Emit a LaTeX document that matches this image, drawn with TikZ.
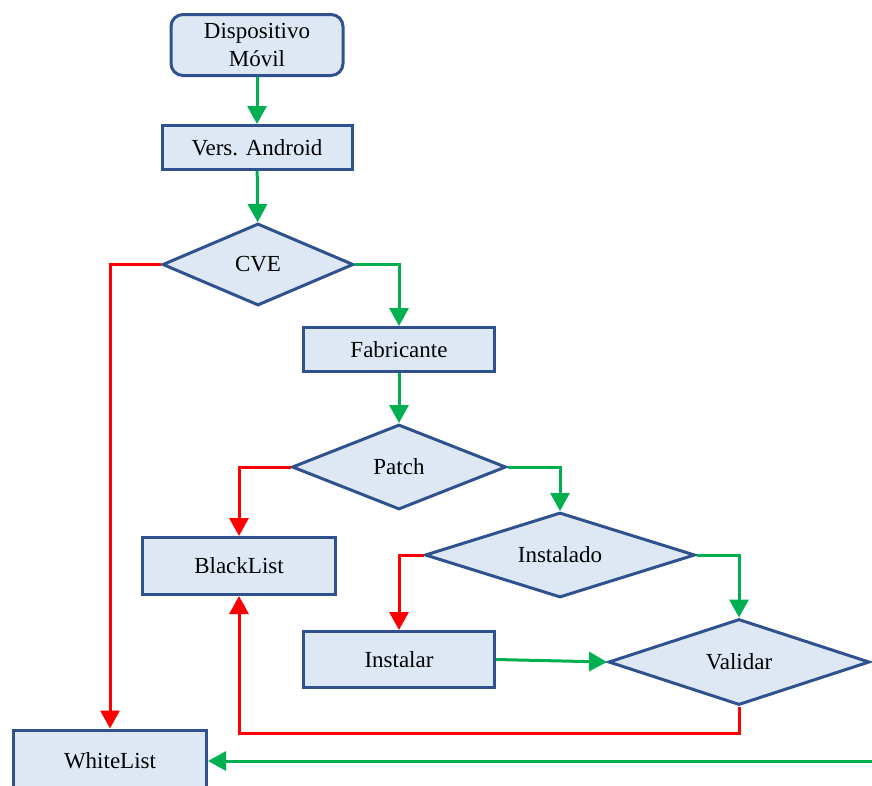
\documentclass[tikz,border=0pt]{standalone}
\usepackage{fontspec}
\setmainfont{Liberation Serif}
\usetikzlibrary{shapes.geometric,arrows.meta}
\definecolor{boxfill}{RGB}{222,232,245}
\definecolor{boxline}{RGB}{47,82,143}
\definecolor{yesgreen}{RGB}{0,176,80}
\definecolor{nored}{RGB}{255,0,0}
\begin{document}
\begin{tikzpicture}[x=1pt,y=-1pt,
  every node/.style={font=\fontsize{23}{28}\selectfont},
  proc/.style={draw=boxline,fill=boxfill,line width=3pt,inner sep=0pt,align=center},
  dec/.style={diamond,draw=boxline,fill=boxfill,line width=3pt,inner sep=0pt,aspect=2.5},
  yes/.style={draw=yesgreen,line width=3pt,-{Triangle[length=18pt,width=19pt]}},
  no/.style={draw=nored,line width=3pt,-{Triangle[length=18pt,width=19pt]}}]
\clip (0,0) rectangle (872,785);
\fill[white] (0,0) rectangle (872,785);

\node[proc,rounded corners=12pt,minimum width=172pt,minimum height=61pt] (disp) at (257,45) {Dispositivo\\Móvil};
\node[proc,minimum width=190pt,minimum height=44pt] (vers) at (257,147.5) {Vers. Android};
\node[dec,minimum width=191pt,minimum height=82pt] (cve) at (258,264.5) {CVE};
\node[proc,minimum width=191pt,minimum height=44pt] (fab) at (399,349.5) {Fabricante};
\node[dec,minimum width=214pt,minimum height=85pt] (patch) at (399,467) {Patch};
\node[proc,minimum width=193pt,minimum height=57pt] (black) at (239,566) {BlackList};
\node[dec,minimum width=270pt,minimum height=85pt] (inst) at (560,555) {Instalado};
\node[proc,minimum width=191pt,minimum height=56pt] (instalar) at (399,659.5) {Instalar};
\node[dec,minimum width=261pt,minimum height=86pt] (valid) at (739,662) {Validar};
\node[proc,minimum width=193pt,minimum height=62pt] (white) at (110,761) {WhiteList};

\coordinate (lowred) at (500,733);
\coordinate (rightin) at (880,761);

\draw[yes] (disp) -- (vers);
\draw[yes] (vers) -- (cve);
\draw[no] (cve.west) -| (white.north);
\draw[yes] (cve.east) -| (fab.north);
\draw[yes] (fab) -- (patch);
\draw[no] (patch.west) -| (black.north);
\draw[yes] (patch.east) -| (inst.north);
\draw[no] (inst.west) -| (instalar.north);
\draw[yes] (inst.east) -| (valid.north);
\draw[yes] (instalar.east) -- (valid.west);
\draw[no] (valid.south) |- (lowred) -| (black.south);
\draw[yes] (rightin) -- (white.east);
\end{tikzpicture}
\end{document}
